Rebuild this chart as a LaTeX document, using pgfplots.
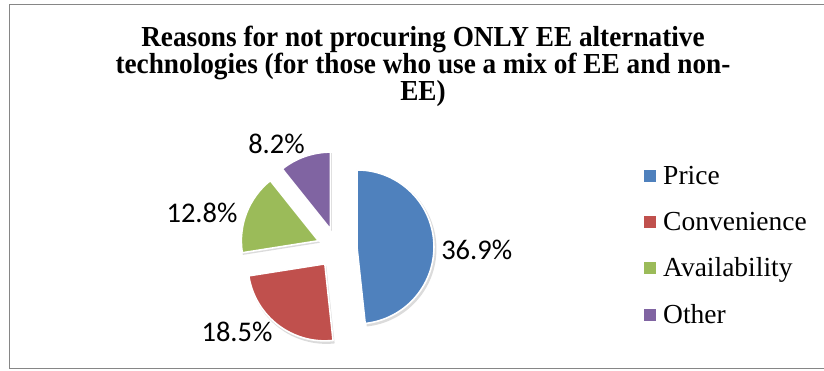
\documentclass[border=0pt]{standalone}
\usepackage{pgfplots}
\usepackage{pgfplotstable}
\pgfplotsset{compat=1.18}
\usepackage{fontspec}
\setmainfont{Liberation Serif}
\newfontfamily\titlefont{Liberation Serif Bold}[FakeStretch=0.94]
\newfontfamily\labelfont{Carlito}
\definecolor{cblue}{RGB}{79,129,189}
\definecolor{cred}{RGB}{192,80,77}
\definecolor{cgreen}{RGB}{155,187,89}
\definecolor{cpurple}{RGB}{128,100,162}
\definecolor{frame}{RGB}{134,134,134}

% name, value (%), colour, label position, legend marker y
\pgfplotstableread{
name         value col     lx     ly     legy
Price        36.9  cblue   476.7  121.5  195
Convenience  18.5  cred    237    39     149.3
Availability 12.8  cgreen  202    157.7  103
Other        8.2   cpurple 276.5  227    56
}\piedata

\tikzset{
  pielabel/.style={font=\labelfont\fontsize{28.5bp}{30bp}\selectfont, inner sep=0pt, text=black},
  legtext/.style={font=\fontsize{27.5bp}{29bp}\selectfont, inner sep=0pt, anchor=base west},
  titletext/.style={font=\titlefont\fontsize{29bp}{27bp}\selectfont, inner sep=0pt, anchor=base},
}

\begin{document}
\begin{tikzpicture}
\begin{axis}[
  at={(0,0)}, anchor=south west,
  width=824bp, height=371bp, scale only axis,
  xmin=0, xmax=824, ymin=0, ymax=371,
  hide axis, clip=false,
]
% frame
\draw[frame, line width=1.5bp] (axis cs:830,366.5) -- (axis cs:9.5,366.5) -- (axis cs:9.5,2.5) -- (axis cs:830,2.5);
% title
\node[titletext] at (axis cs:423,324) {Reasons for not procuring ONLY EE alternative};
\node[titletext] at (axis cs:423,297) {technologies (for those who use a mix of EE and non-};
\node[titletext] at (axis cs:423,270) {EE)};

% total
\def\pietotal{0}
\pgfplotstableforeachcolumnelement{value}\of\piedata\as\cell{%
  \pgfmathsetmacro\tmpsum{\pietotal+\cell}\xdef\pietotal{\tmpsum}}
\def\startang{90}
\pgfplotsforeachungrouped \i in {0,...,3}{%
  \pgfplotstablegetelem{\i}{value}\of\piedata \let\v\pgfplotsretval
  \pgfplotstablegetelem{\i}{col}\of\piedata \let\col\pgfplotsretval
  \pgfplotstablegetelem{\i}{lx}\of\piedata \let\lx\pgfplotsretval
  \pgfplotstablegetelem{\i}{ly}\of\piedata \let\ly\pgfplotsretval
  \pgfplotstablegetelem{\i}{legy}\of\piedata \let\legy\pgfplotsretval
  \pgfplotstablegetelem{\i}{name}\of\piedata \let\nm\pgfplotsretval
  \pgfmathsetmacro\sweep{360*\v/\pietotal}
  \pgfmathsetmacro\endang{\startang-\sweep}
  \pgfmathsetmacro\midang{\startang-\sweep/2}
  \pgfmathsetmacro\ox{337+20*cos(\midang)}
  \pgfmathsetmacro\oy{123+20*sin(\midang)}
  \pgfmathsetmacro\sx{\ox+1.5}
  \pgfmathsetmacro\sy{\oy-2}
  \pgfmathsetmacro\legtop{\legy+6}
  \pgfmathsetmacro\legbot{\legy-6}
  \pgfmathsetmacro\legbase{\legy-8.5}
  \edef\cmd{%
    \noexpand\fill[black, opacity=0.14] (axis cs:\sx,\sy) -- ++(\startang:78bp) arc[start angle=\startang, end angle=\endang, radius=78bp] -- cycle;
    \noexpand\fill[fill=\col, draw=white, line width=1.6bp, line join=round] (axis cs:\ox,\oy) -- ++(\startang:77bp) arc[start angle=\startang, end angle=\endang, radius=77bp] -- cycle;
    \noexpand\node[pielabel] at (axis cs:\lx,\ly) {\v\noexpand\%};
    \noexpand\fill[\col] (axis cs:644,\legbot) rectangle (axis cs:656,\legtop);
    \noexpand\node[legtext] at (axis cs:663,\legbase) {\nm};
  }%
  \cmd
  \let\startang\endang
}
\end{axis}
\pgfresetboundingbox
\path[use as bounding box] (0,0) rectangle (824bp,371bp);
\end{tikzpicture}
\end{document}
